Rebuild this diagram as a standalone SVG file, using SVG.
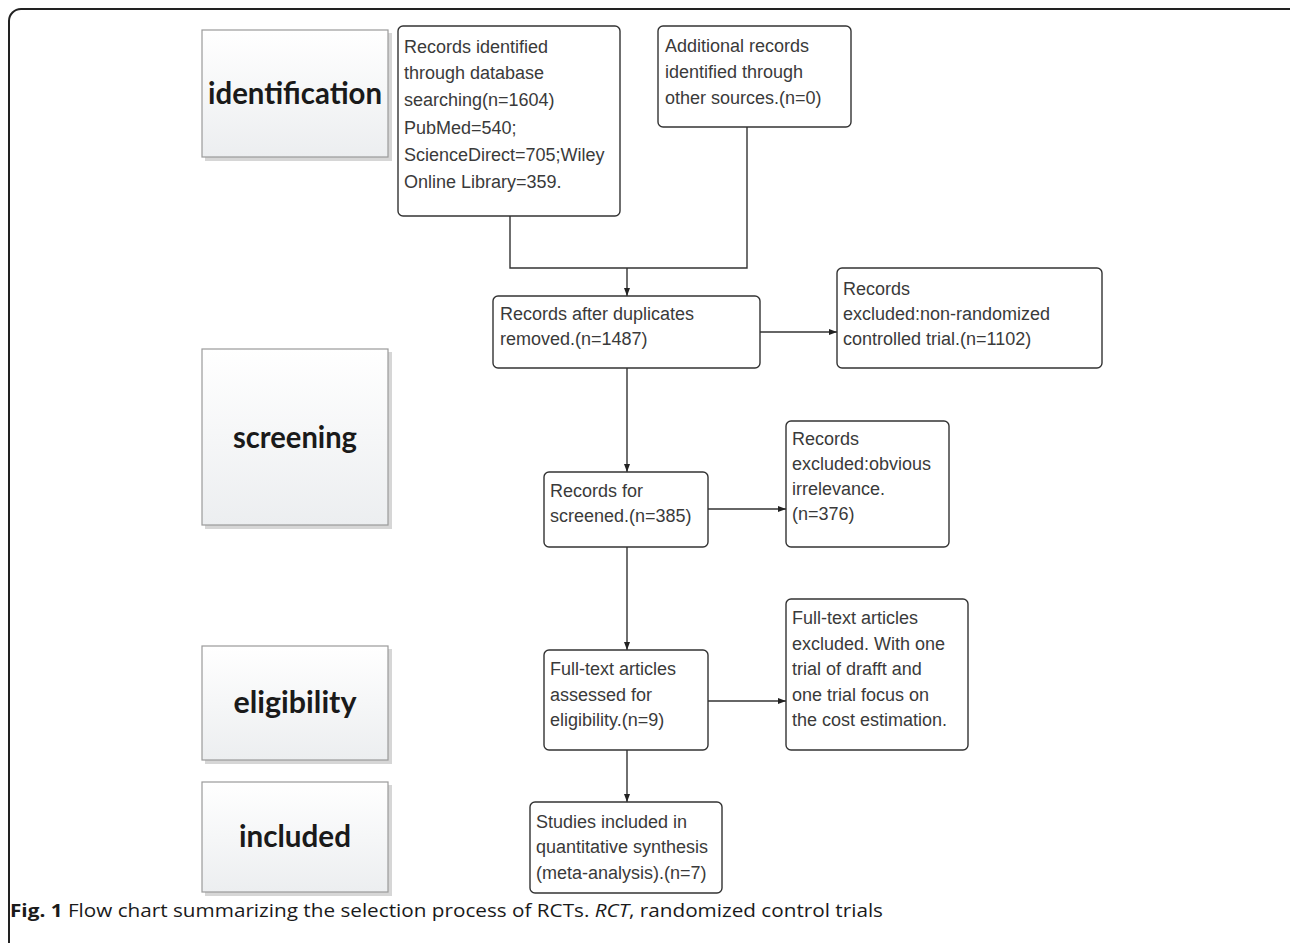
<svg xmlns="http://www.w3.org/2000/svg" width="1290" height="943" viewBox="0 0 1290 943">
<defs>
<linearGradient id="lg" x1="0" y1="0" x2="0" y2="1">
<stop offset="0" stop-color="#ffffff"/>
<stop offset="1" stop-color="#eceef0"/>
</linearGradient>
<marker id="ah" viewBox="0 0 8 8" refX="8" refY="4" markerWidth="8" markerHeight="8" markerUnits="userSpaceOnUse" orient="auto">
<path d="M0,1 L8,4 L0,7 Z" fill="#222"/>
</marker>
<style>
.frame{fill:none;stroke:#222;stroke-width:2}
.lab{fill:url(#lg);stroke:#9a9a9a;stroke-width:1.2}
.shd{fill:#d6d6d6}
.labt{font-family:Lato,"Open Sans",sans-serif;font-weight:bold;font-size:31px;fill:#1a1a1a;text-anchor:middle}
.box{fill:#fff;stroke:#333;stroke-width:1.4}
.bt{font-family:"Liberation Sans",Arial,sans-serif;font-size:18px;fill:#3a3a3a}
.ln{fill:none;stroke:#333;stroke-width:1.4}
.arr{fill:none;stroke:#333;stroke-width:1.4;marker-end:url(#ah)}
.cap{font-family:"Open Sans",sans-serif;font-size:18.5px;fill:#1a1a1a}
</style>
</defs>
<rect class="frame" x="9" y="9" width="1300" height="1000" rx="12"/>

<g id="lab-identification">
<rect class="shd" x="205" y="33" width="187" height="128"/>
<rect class="lab" x="202" y="30" width="186" height="127"/>
<text class="labt" x="295" y="104" textLength="174" lengthAdjust="spacingAndGlyphs">identification</text>
</g>
<g id="lab-screening">
<rect class="shd" x="205" y="352" width="187" height="177"/>
<rect class="lab" x="202" y="349" width="186" height="176"/>
<text class="labt" x="295" y="448" textLength="124" lengthAdjust="spacingAndGlyphs">screening</text>
</g>
<g id="lab-eligibility">
<rect class="shd" x="205" y="649" width="187" height="115"/>
<rect class="lab" x="202" y="646" width="186" height="114"/>
<text class="labt" x="295" y="713" textLength="123" lengthAdjust="spacingAndGlyphs">eligibility</text>
</g>
<g id="lab-included">
<rect class="shd" x="205" y="785" width="187" height="111"/>
<rect class="lab" x="202" y="782" width="186" height="110"/>
<text class="labt" x="295" y="847" textLength="112" lengthAdjust="spacingAndGlyphs">included</text>
</g>

<g id="connectors">
<polyline class="ln" points="510,216 510,268 747,268 747,127"/>
<line class="arr" x1="627" y1="268" x2="627" y2="296"/>
<line class="arr" x1="760" y1="332" x2="837" y2="332"/>
<line class="arr" x1="627" y1="368" x2="627" y2="472"/>
<line class="arr" x1="708" y1="509" x2="786" y2="509"/>
<line class="arr" x1="627" y1="547" x2="627" y2="650"/>
<line class="arr" x1="708" y1="701" x2="786" y2="701"/>
<line class="arr" x1="627" y1="750" x2="627" y2="802"/>
</g>

<g id="node-identified">
<rect class="box" x="398" y="26" width="222" height="190" rx="5"/>
<text class="bt" x="404"><tspan x="404" y="53">Records identified</tspan><tspan x="404" y="79">through database</tspan><tspan x="404" y="106">searching(n=1604)</tspan><tspan x="404" y="134">PubMed=540;</tspan><tspan x="404" y="161">ScienceDirect=705;Wiley</tspan><tspan x="404" y="188">Online Library=359.</tspan></text>
</g>
<g id="node-additional">
<rect class="box" x="658" y="26" width="193" height="101" rx="5"/>
<text class="bt"><tspan x="665" y="52">Additional records</tspan><tspan x="665" y="78">identified through</tspan><tspan x="665" y="104">other sources.(n=0)</tspan></text>
</g>
<g id="node-duplicates">
<rect class="box" x="493" y="296" width="267" height="72" rx="5"/>
<text class="bt"><tspan x="500" y="320">Records after duplicates</tspan><tspan x="500" y="345">removed.(n=1487)</tspan></text>
</g>
<g id="node-excluded1">
<rect class="box" x="837" y="268" width="265" height="100" rx="5"/>
<text class="bt"><tspan x="843" y="295">Records</tspan><tspan x="843" y="320">excluded:non-randomized</tspan><tspan x="843" y="345">controlled trial.(n=1102)</tspan></text>
</g>
<g id="node-screened">
<rect class="box" x="544" y="472" width="164" height="75" rx="5"/>
<text class="bt"><tspan x="550" y="497">Records for</tspan><tspan x="550" y="522">screened.(n=385)</tspan></text>
</g>
<g id="node-excluded2">
<rect class="box" x="786" y="421" width="163" height="126" rx="5"/>
<text class="bt"><tspan x="792" y="445">Records</tspan><tspan x="792" y="470">excluded:obvious</tspan><tspan x="792" y="495">irrelevance.</tspan><tspan x="792" y="520">(n=376)</tspan></text>
</g>
<g id="node-fulltext">
<rect class="box" x="544" y="650" width="164" height="100" rx="5"/>
<text class="bt"><tspan x="550" y="675">Full-text articles</tspan><tspan x="550" y="701">assessed for</tspan><tspan x="550" y="726">eligibility.(n=9)</tspan></text>
</g>
<g id="node-excluded3">
<rect class="box" x="786" y="599" width="182" height="151" rx="5"/>
<text class="bt"><tspan x="792" y="624">Full-text articles</tspan><tspan x="792" y="650">excluded. With one</tspan><tspan x="792" y="675">trial of drafft and</tspan><tspan x="792" y="701">one trial focus on</tspan><tspan x="792" y="726">the cost estimation.</tspan></text>
</g>
<g id="node-included">
<rect class="box" x="530" y="802" width="192" height="91" rx="5"/>
<text class="bt"><tspan x="536" y="828">Studies included in</tspan><tspan x="536" y="853">quantitative synthesis</tspan><tspan x="536" y="879">(meta-analysis).(n=7)</tspan></text>
</g>

<text class="cap" x="10" y="917" textLength="873" lengthAdjust="spacingAndGlyphs"><tspan font-weight="bold">Fig. 1</tspan> Flow chart summarizing the selection process of RCTs. <tspan font-style="italic">RCT</tspan>, randomized control trials</text>
</svg>
